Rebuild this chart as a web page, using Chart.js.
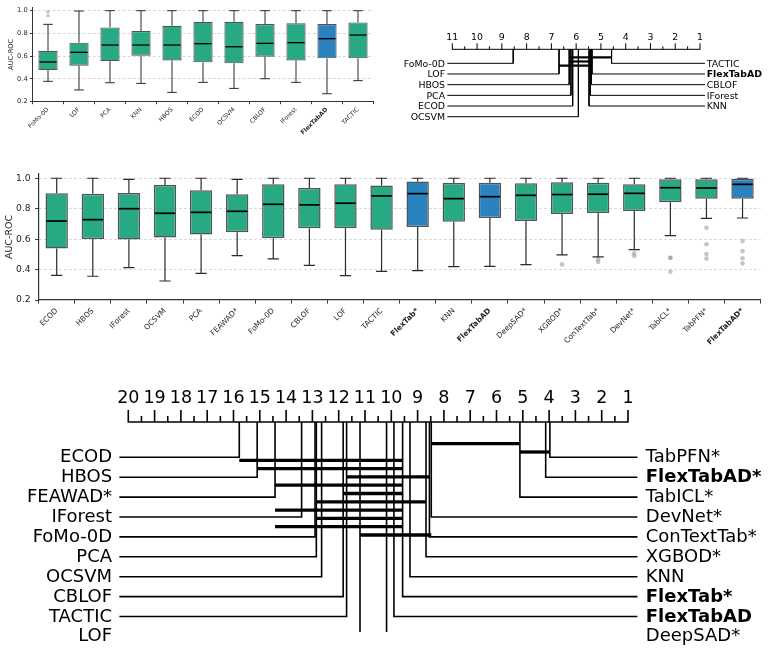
<!DOCTYPE html>
<html><head><meta charset="utf-8">
<script src="https://cdn.jsdelivr.net/npm/chart.js@4.4.1/dist/chart.umd.min.js"></script>
<style>
html,body{margin:0;padding:0;background:#fff;}
body{width:770px;height:651px;position:relative;overflow:hidden;}
canvas{position:absolute;display:block;}
</style></head><body>
<canvas id="boxTop" width="385" height="140" style="left:0;top:0"></canvas>
<canvas id="cdTop" width="380" height="135" style="left:390px;top:0"></canvas>
<canvas id="boxMid" width="770" height="215" style="left:0;top:150px"></canvas>
<canvas id="cdBot" width="770" height="281" style="left:0;top:370px"></canvas>
<script>
// ---------------- DATA ----------------
// Top-left box plot (AUC-ROC)
const topCats = ['FoMo-0D','LOF','PCA','KNN','HBOS','ECOD','OCSVM','CBLOF','IForest','FlexTabAD','TACTIC'];
const topLow  = [0.379,0.303,0.367,0.361,0.282,0.370,0.317,0.402,0.370,0.270,0.385];
const topQ1   = [0.478,0.516,0.557,0.604,0.563,0.546,0.537,0.596,0.563,0.581,0.581];
const topMed  = [0.549,0.634,0.698,0.698,0.698,0.710,0.683,0.713,0.719,0.754,0.786];
const topQ3   = [0.648,0.719,0.853,0.821,0.868,0.903,0.903,0.883,0.889,0.883,0.897];
const topHigh = [0.880,0.997,1.000,1.000,1.000,1.000,1.000,1.000,1.000,1.000,1.000];
const topOut  = [[0.956,0.990],[],[],[],[],[],[],[],[],[],[]];
const topBlue = ['FlexTabAD'];
const topBold = ['FlexTabAD'];

// Middle box plot (AUC-ROC)
const midCats = ['ECOD','HBOS','IForest','OCSVM','PCA','FEAWAD*','FoMo-0D','CBLOF','LOF','TACTIC','FlexTab*','KNN','FlexTabAD','DeepSAD*','XGBOD*','ConTextTab*','DevNet*','TabICL*','TabPFN*','FlexTabAD*'];
const midLow  = [0.362,0.356,0.413,0.325,0.375,0.491,0.470,0.428,0.360,0.388,0.393,0.419,0.421,0.432,0.496,0.483,0.531,0.623,0.737,0.739];
const midQ1   = [0.538,0.601,0.597,0.610,0.630,0.645,0.605,0.671,0.671,0.662,0.680,0.715,0.739,0.719,0.765,0.772,0.785,0.842,0.866,0.866];
const midMed  = [0.719,0.728,0.800,0.770,0.776,0.783,0.829,0.825,0.836,0.884,0.899,0.866,0.879,0.888,0.893,0.895,0.901,0.938,0.936,0.960];
const midQ3   = [0.901,0.899,0.903,0.956,0.921,0.895,0.961,0.936,0.961,0.952,0.978,0.969,0.971,0.967,0.974,0.971,0.960,0.993,0.993,0.996];
const midHigh = [1.000,1.000,0.993,1.000,1.000,0.993,1.000,1.000,1.000,1.000,1.000,1.000,1.000,1.000,1.000,1.000,1.000,1.000,1.000,1.000];
const midOut  = [[],[],[],[],[],[],[],[],[],[],[],[],[],[],[0.434],[0.467,0.450],[0.507,0.489],[0.478,0.478,0.386],[0.675,0.566,0.502,0.472],[0.588,0.522,0.474,0.441]];
const midBlue = ['FlexTab*','FlexTabAD','FlexTabAD*'];
const midBold = ['FlexTab*','FlexTabAD','FlexTabAD*'];

// Top-right critical difference diagram (average ranks)
const cdTopTicks = [11,10,9,8,7,6,5,4,3,2,1];
const cdTopLeft = ['FoMo-0D','LOF','HBOS','PCA','ECOD','OCSVM'];
const cdTopLeftRanks = [8.54,6.69,6.28,6.21,6.14,5.91];
const cdTopRight = ['TACTIC','FlexTabAD','CBLOF','IForest','KNN'];
const cdTopRightRanks = [4.57,5.36,5.39,5.43,5.48];
const cdTopCliques = [[6.28,4.57],[6.28,5.36],[6.69,5.36]];
const cdTopCliqueSlots = [0,1,2];
const cdTopBold = ['FlexTabAD'];

// Bottom critical difference diagram (average ranks)
const cdBotTicks = [20,19,18,17,16,15,14,13,12,11,10,9,8,7,6,5,4,3,2,1];
const cdBotLeft = ['ECOD','HBOS','FEAWAD*','IForest','FoMo-0D','PCA','OCSVM','CBLOF','TACTIC','LOF'];
const cdBotLeftRanks = [15.78,15.10,14.42,13.41,12.90,12.85,12.65,11.83,11.70,11.19];
const cdBotRight = ['TabPFN*','FlexTabAD*','TabICL*','DevNet*','ConTextTab*','XGBOD*','KNN','FlexTab*','FlexTabAD','DeepSAD*'];
const cdBotRightRanks = [3.97,4.13,5.11,8.48,8.55,8.68,9.29,9.57,9.90,10.18];
const cdBotCliques = [[15.78,9.57],[15.10,9.57],[11.70,8.55],[14.42,9.57],[11.83,9.57],[12.85,8.68],[14.42,9.57],[12.85,9.57],[14.42,9.57],[11.19,8.48],[8.48,5.11],[5.11,3.97]];
const cdBotCliqueSlots = [0,1,2,3,4,5,6,7,8,9,-2,-1];
const cdBotBold = ['FlexTabAD*','FlexTab*','FlexTabAD'];

// ---------------- STYLE ----------------
const FONT = "'DejaVu Sans', sans-serif";
const GREEN = '#27a983';
const BLUE = '#2a82be';

function makeBoxPlugin(low, med, high, st) {
  return {
    id: 'boxExtras',
    afterDatasetsDraw(chart) {
      const ctx = chart.ctx, y = chart.scales.y;
      const meta = chart.getDatasetMeta(0);
      ctx.save();
      meta.data.forEach((bar, i) => {
        const p = bar.getProps(['x','y','base','width'], true);
        const half = p.width / 2, cap = p.width / 4;
        const yq3 = Math.min(p.y, p.base), yq1 = Math.max(p.y, p.base);
        const yHi = y.getPixelForValue(high[i]), yLo = y.getPixelForValue(low[i]);
        ctx.strokeStyle = '#2b2b2b'; ctx.lineWidth = st.whiskW; ctx.lineCap = 'butt';
        ctx.beginPath();
        ctx.moveTo(p.x, yq3); ctx.lineTo(p.x, yHi);
        ctx.moveTo(p.x - cap, yHi); ctx.lineTo(p.x + cap, yHi);
        ctx.moveTo(p.x, yq1); ctx.lineTo(p.x, yLo);
        ctx.moveTo(p.x - cap, yLo); ctx.lineTo(p.x + cap, yLo);
        ctx.stroke();
        const ym = y.getPixelForValue(med[i]);
        ctx.strokeStyle = '#000'; ctx.lineWidth = st.medW;
        ctx.beginPath(); ctx.moveTo(p.x - half + 1, ym); ctx.lineTo(p.x + half - 1, ym); ctx.stroke();
      });
      ctx.restore();
    }
  };
}

function boxChart(id, cats, low, q1, med, q3, high, outs, blue, bold, st) {
  const colors = cats.map(c => blue.includes(c) ? BLUE : GREEN);
  const pts = [];
  cats.forEach((c, i) => outs[i].forEach(v => pts.push({x: c, y: v})));
  new Chart(document.getElementById(id), {
    type: 'bar',
    data: {
      labels: cats,
      datasets: [
        {type: 'bar', data: cats.map((c, i) => [q1[i], q3[i]]), backgroundColor: colors,
         borderColor: 'rgba(65,65,65,0.9)', borderWidth: st.boxW, borderSkipped: false,
         barPercentage: 0.62, categoryPercentage: 1, order: 2},
        {type: 'line', data: pts, showLine: false, pointRadius: st.outR, pointHoverRadius: st.outR,
         pointBackgroundColor: 'rgba(150,150,150,0.55)', pointBorderWidth: 0, order: 1}
      ]
    },
    options: {
      responsive: false, animation: false, devicePixelRatio: 1,
      layout: {padding: st.pad},
      plugins: {legend: {display: false}, tooltip: {enabled: false}},
      scales: {
        x: {
          grid: {drawOnChartArea: false, drawTicks: true, tickLength: st.tickLen, tickColor: '#333', tickWidth: 1},
          border: {display: true, color: '#333', width: st.spineW},
          ticks: {minRotation: 45, maxRotation: 45, autoSkip: false, color: '#222', padding: st.xPad,
            font: (c) => ({family: FONT, size: st.xFont, weight: bold.includes(cats[c.index]) ? 'bold' : 'normal'})},
          afterFit: (s) => { s.height = st.xH; }
        },
        y: {
          min: 0.2, max: st.yMax,
          ticks: {stepSize: 0.2, includeBounds: false, color: '#222', padding: st.yPad,
            font: {family: FONT, size: st.yFont}, callback: (v) => Number(v).toFixed(1)},
          grid: {color: (c) => (c.tick && Math.abs(c.tick.value - 0.2) < 1e-6) ? 'rgba(0,0,0,0)' : '#c8c8c8',
            lineWidth: 0.8, drawTicks: true, tickLength: st.tickLen, tickColor: '#333', tickWidth: 1, tickBorderDash: []},
          border: {display: true, color: '#333', width: st.spineW, dash: [2.5, 2.5]},
          title: {display: true, text: 'AUC-ROC', color: '#222', font: {family: FONT, size: st.titleFont}, padding: {top: st.titlePad, bottom: 0}},
          afterFit: (s) => { s.width = st.yW; }
        }
      }
    },
    plugins: [makeBoxPlugin(low, med, high, st)]
  });
}

boxChart('boxTop', topCats, topLow, topQ1, topMed, topQ3, topHigh, topOut, topBlue, topBold, {
  pad: {top: 7, right: 11.5, left: 0, bottom: 0}, yW: 32.5, xH: 38.3, yMax: 1.0325,
  xFont: 6, yFont: 6.7, titleFont: 6.7, titlePad: 7.7, tickLen: 2.5, xPad: 2, yPad: 2.3,
  spineW: 1, boxW: 1.2, medW: 1.3, whiskW: 1.0, outR: 1.8
});
boxChart('boxMid', midCats, midLow, midQ1, midMed, midQ3, midHigh, midOut, midBlue, midBold, {
  pad: {top: 24, right: 9.4, left: 0, bottom: 0}, yW: 38.65, xH: 65, yMax: 1.028,
  xFont: 7.5, yFont: 9.2, titleFont: 9.5, titlePad: 4.3, tickLen: 3.5, xPad: 3, yPad: 4.5,
  spineW: 1.2, boxW: 1.5, medW: 1.7, whiskW: 1.2, outR: 2.3
});

// ---------------- CD DIAGRAMS ----------------
function cdChart(id, d, L) {
  const maxRank = d.ticks[0];
  const line = (pts, w) => ({data: pts, showLine: true, borderColor: '#000', borderWidth: w,
    pointRadius: 0, pointHoverRadius: 0, borderJoinStyle: 'miter', borderCapStyle: 'butt', tension: 0, fill: false,
    clip: {left: 20, right: 20, top: 20, bottom: 0}});
  const ds = [];
  d.left.forEach((n, i) => ds.push(line([{x: d.leftRanks[i], y: L.axisRow}, {x: d.leftRanks[i], y: i}, {x: maxRank + L.edgeL, y: i}], L.lw)));
  d.right.forEach((n, i) => ds.push(line([{x: d.rightRanks[i], y: L.axisRow}, {x: d.rightRanks[i], y: i}, {x: 1 - L.edgeR, y: i}], L.lw)));
  d.cliques.forEach((c, k) => {
    const r = L.cliqueRow0 + d.slots[k] * L.cliqueStep;
    ds.push(line([{x: c[0], y: r}, {x: c[1], y: r}], L.bw));
  });
  const textPlugin = {
    id: 'cdText',
    afterDraw(chart) {
      const ctx = chart.ctx, x = chart.scales.x, y = chart.scales.y;
      const ay = y.getPixelForValue(L.axisRow);
      ctx.save();
      ctx.strokeStyle = '#000'; ctx.lineWidth = L.lw; ctx.lineCap = 'butt';
      ctx.beginPath();
      ctx.moveTo(x.getPixelForValue(maxRank), ay); ctx.lineTo(x.getPixelForValue(1), ay);
      for (let r = 1; r <= maxRank + 1e-9; r += 0.5) {
        const len = Math.abs(r - Math.round(r)) < 1e-9 ? L.major : L.minor;
        const px = x.getPixelForValue(r);
        ctx.moveTo(px, ay + L.lw / 2); ctx.lineTo(px, ay - len);
      }
      ctx.stroke();
      ctx.fillStyle = '#000';
      ctx.textBaseline = 'alphabetic';
      ctx.textAlign = 'center';
      ctx.font = L.tickFont + 'px ' + FONT;
      d.ticks.forEach(t => ctx.fillText(String(t), x.getPixelForValue(t), ay - L.tickLabOff));
      const fnt = (n) => (d.bold.includes(n) ? 'bold ' : '') + L.labFont + 'px ' + FONT;
      ctx.textAlign = 'right';
      d.left.forEach((n, i) => { ctx.font = fnt(n); ctx.fillText(n, x.getPixelForValue(maxRank + L.edgeL) - L.gapL, y.getPixelForValue(i) + L.textDy); });
      ctx.textAlign = 'left';
      d.right.forEach((n, i) => { ctx.font = fnt(n); ctx.fillText(n, x.getPixelForValue(1 - L.edgeR) + L.gapR, y.getPixelForValue(i) + L.textDy); });
      ctx.restore();
    }
  };
  new Chart(document.getElementById(id), {
    type: 'scatter',
    data: {datasets: ds},
    options: {
      responsive: false, animation: false, devicePixelRatio: 1,
      layout: {padding: L.pad},
      plugins: {legend: {display: false}, tooltip: {enabled: false}},
      scales: {
        x: {type: 'linear', display: false, reverse: true, min: L.xMin, max: L.xMax},
        y: {type: 'linear', display: false, reverse: true, min: L.yMin, max: L.yMax}
      }
    },
    plugins: [textPlugin]
  });
}

cdChart('cdTop', {ticks: cdTopTicks, left: cdTopLeft, leftRanks: cdTopLeftRanks, right: cdTopRight, rightRanks: cdTopRightRanks,
  cliques: cdTopCliques, slots: cdTopCliqueSlots, bold: cdTopBold}, {
  pad: {top: 0, bottom: 0, left: 0, right: 0},
  xMin: -1.826, xMax: 13.515, yMin: -5.927, yMax: 6.713,
  axisRow: -1.311, cliqueRow0: -0.562, cliqueStep: 0.39,
  edgeL: 0.2, edgeR: 0.2, gapL: 2.3, gapR: 1.7, lw: 1, bw: 2.2, major: 6, minor: 3,
  tickFont: 9.4, tickLabOff: 9.2, labFont: 9.4, textDy: 3.4
});

cdChart('cdBot', {ticks: cdBotTicks, left: cdBotLeft, leftRanks: cdBotLeftRanks, right: cdBotRight, rightRanks: cdBotRightRanks,
  cliques: cdBotCliques, slots: cdBotCliqueSlots, bold: cdBotBold}, {
  pad: {top: 0, bottom: 19, left: 0, right: 0},
  xMin: -4.399, xMax: 24.878, yMin: -4.387, yMax: 8.779,
  axisRow: -1.774, cliqueRow0: 0.151, cliqueStep: 0.417,
  edgeL: 0.34, edgeR: 0.36, gapL: 7.3, gapR: 8.3, lw: 1.6, bw: 3.3, major: 12, minor: 6,
  tickFont: 17.5, tickLabOff: 18.9, labFont: 18, textDy: 5.1
});
</script>
</body></html>
